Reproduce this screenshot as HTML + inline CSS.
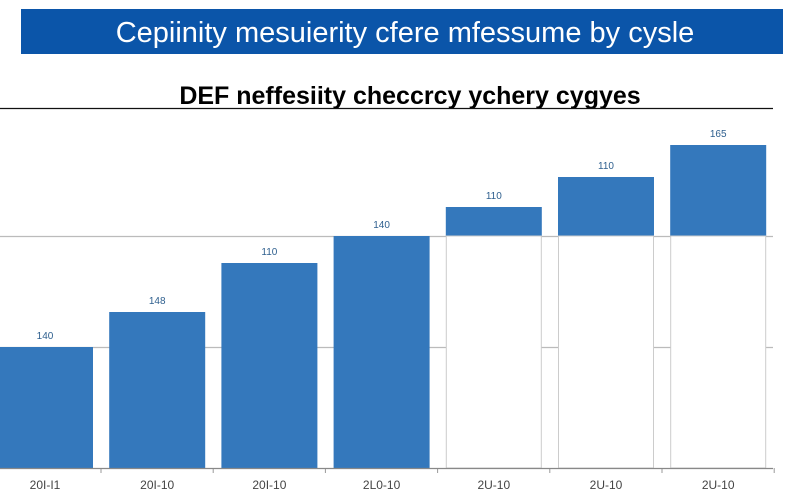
<!DOCTYPE html>
<html><head><meta charset="utf-8"><style>
html,body{margin:0;padding:0;background:#fff;width:800px;height:496px;overflow:hidden;font-family:"Liberation Sans",sans-serif}
</style></head><body>
<svg width="800" height="496" viewBox="0 0 800 496">
<rect x="21" y="9" width="762" height="45" fill="#0b55a9"/>
<text x="405" y="42" text-anchor="middle" fill="#fff" font-size="29">Cepiinity mesuierity cfere mfessume by cysle</text>
<text x="410" y="104" text-anchor="middle" fill="#000" font-size="25" font-weight="bold">DEF neffesiity checcrcy ychery cygyes</text>
<line x1="0" y1="108.5" x2="773" y2="108.5" stroke="#111" stroke-width="1.2"/>
<g id="plot"></g>
</svg>
<script>
const categories=["20I-I1","20I-10","20I-10","2L0-10","2U-10","2U-10","2U-10"];
const values=[121,156,205,232,261,291,323];
const valueLabels=["140","148","110","140","110","110","165"];
const gridTicks=[121,232];
const NS="http://www.w3.org/2000/svg";
const g=document.getElementById("plot");
const base=468, left=0, right=773;
const barStep=112.2, barW=96;
function y(v){return base-v;}
function xc(i){return 45+i*barStep;}
function mk(t,a){const e=document.createElementNS(NS,t);for(const k in a)e.setAttribute(k,a[k]);g.appendChild(e);return e;}
gridTicks.forEach(v=>{
 const l=mk("line",{x1:left,x2:right,y1:y(v)+0.5,y2:y(v)+0.5,stroke:"#bbb","stroke-width":1.2});
 
 
});
const breakV=gridTicks[gridTicks.length-1];
values.forEach((v,i)=>{
 const cx=xc(i), x0=Math.max(0,cx-barW/2), w=cx+barW/2-x0;
 if(v>breakV+5){
  const r=mk("rect",{x:x0,y:y(v),width:w,height:v-breakV,fill:"#3478bc"});
  
  
  const o=mk("rect",{x:x0+0.5,y:y(breakV),width:w-1,height:breakV,fill:"#fff",stroke:"#ccc","stroke-width":1});
  
  
 } else {
  const r=mk("rect",{x:x0,y:y(v),width:w,height:v,fill:"#3478bc"});
  
  
 }
 const t=mk("text",{x:cx,y:y(v)-8,"text-anchor":"middle","font-size":10,fill:"#2e5f8e"});
 t.textContent=valueLabels[i];
 
 
 const c=mk("text",{x:cx,y:489,"text-anchor":"middle","font-size":12,fill:"#444"});
 c.textContent=categories[i];
 
 
 const tx=cx+56;
 const tk=mk("line",{x1:tx,x2:tx,y1:base,y2:base+5,stroke:"#999"});
 
 
});
const ax=mk("line",{x1:left,x2:right,y1:base+0.5,y2:base+0.5,stroke:"#888","stroke-width":1.2});


</script>
</body></html>
